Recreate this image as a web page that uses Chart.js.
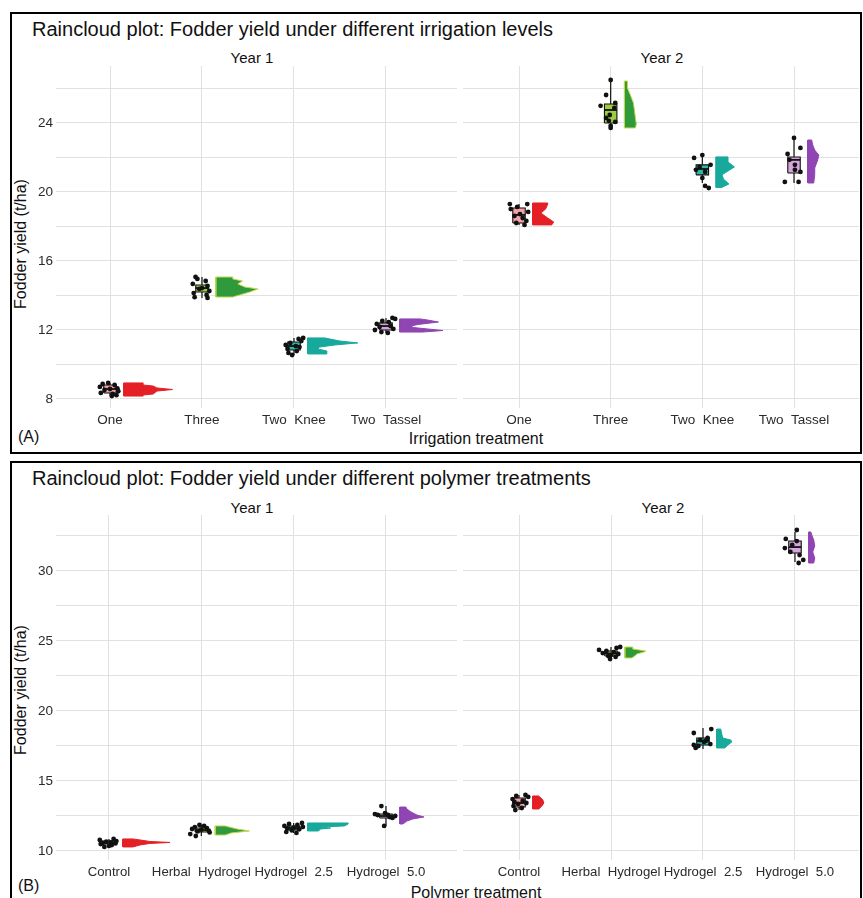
<!DOCTYPE html>
<html><head><meta charset="utf-8">
<script src="https://cdn.jsdelivr.net/npm/chart.js@4.4.1/dist/chart.umd.min.js"></script>
<style>
html,body{margin:0;padding:0;background:#fff;width:863px;height:898px;overflow:hidden;font-family:"Liberation Sans",Arial,sans-serif;}
.frame{position:absolute;border:2px solid #000;box-sizing:border-box;}
.t{position:absolute;white-space:nowrap;color:#111;line-height:1;}
canvas{position:absolute;}
</style></head><body>
<div class="frame" style="left:10px;top:12px;width:852px;height:442px;"></div>
<div class="frame" style="left:10px;top:461px;width:852px;height:470px;"></div>

<div class="t" style="left:32px;top:29px;font-size:20px;transform:translateY(-50%);">Raincloud plot: Fodder yield under different irrigation levels</div>
<div class="t" style="left:252px;top:57px;font-size:15px;transform:translate(-50%,-50%);">Year 1</div>
<div class="t" style="left:662px;top:57px;font-size:15px;transform:translate(-50%,-50%);">Year 2</div>
<div class="t" style="left:21px;top:244px;font-size:16px;transform:translate(-50%,-50%) rotate(-90deg);">Fodder yield (t/ha)</div>
<div class="t" style="left:476px;top:439px;font-size:16px;transform:translate(-50%,-50%);">Irrigation treatment</div>
<div class="t" style="left:18px;top:437px;font-size:16px;transform:translateY(-50%);">(A)</div>

<div class="t" style="left:32px;top:478px;font-size:20px;transform:translateY(-50%);">Raincloud plot: Fodder yield under different polymer treatments</div>
<div class="t" style="left:252px;top:507px;font-size:15px;transform:translate(-50%,-50%);">Year 1</div>
<div class="t" style="left:663px;top:507px;font-size:15px;transform:translate(-50%,-50%);">Year 2</div>
<div class="t" style="left:21px;top:690px;font-size:16px;transform:translate(-50%,-50%) rotate(-90deg);">Fodder yield (t/ha)</div>
<div class="t" style="left:476px;top:893px;font-size:16px;transform:translate(-50%,-50%);">Polymer treatment</div>
<div class="t" style="left:18px;top:886px;font-size:16px;transform:translateY(-50%);">(B)</div>

<canvas id="a1" width="446" height="372" style="left:14px;top:62px;"></canvas>
<canvas id="a2" width="396" height="372" style="left:463px;top:62px;"></canvas>
<canvas id="b1" width="446" height="375" style="left:14px;top:511px;"></canvas>
<canvas id="b2" width="396" height="375" style="left:463px;top:511px;"></canvas>

<script>
// ---------- DATA ----------
const irrigationCategories = ["One", "Three", "Two  Knee", "Two  Tassel"];
const polymerCategories = ["Control", "Herbal  Hydrogel", "Hydrogel  2.5", "Hydrogel  5.0"];

const yTicksIrrigation = [8, 12, 16, 20, 24];
const yMinorIrrigation = [10, 14, 18, 22, 26];
const yTicksPolymer = [10, 15, 20, 25, 30];
const yMinorPolymer = [12.5, 17.5, 22.5, 27.5, 32.5];

// Box stats: [lower whisker, Q1, median, Q3, upper whisker]
const irrYear1Box = [
  [8.17, 8.35, 8.58, 8.81, 8.93],
  [13.86, 14.20, 14.43, 14.61, 15.07],
  [10.55, 10.84, 11.07, 11.30, 11.54],
  [11.83, 12.00, 12.23, 12.41, 12.70]
];
const irrYear2Box = [
  [18.09, 18.20, 18.67, 19.07, 19.30],
  [23.71, 24.00, 24.75, 25.10, 26.49],
  [20.52, 20.99, 21.33, 21.57, 22.14],
  [20.52, 21.10, 21.86, 22.03, 23.13]
];
const polYear1Box = [
  [10.29, 10.50, 10.60, 10.71, 10.86],
  [11.07, 11.36, 11.50, 11.64, 11.86],
  [11.29, 11.50, 11.64, 11.79, 12.00],
  [11.79, 12.36, 12.50, 12.64, 13.21]
];
const polYear2Box = [
  [12.93, 13.14, 13.43, 13.79, 14.00],
  [23.71, 23.93, 24.11, 24.29, 24.57],
  [17.29, 17.57, 17.86, 18.07, 18.79],
  [30.64, 31.29, 31.71, 32.14, 32.79]
];

// Raw observations (rain) and their horizontal jitter
const irrYear1Points = [
  [8.93, 8.87, 8.81, 8.70, 8.62, 8.58, 8.52, 8.45, 8.35, 8.29, 8.22, 8.17],
  [15.07, 14.96, 14.84, 14.67, 14.55, 14.43, 14.38, 14.26, 14.14, 14.03, 13.90, 13.86],
  [11.54, 11.48, 11.36, 11.25, 11.13, 11.07, 11.01, 10.90, 10.78, 10.67, 10.55],
  [12.70, 12.64, 12.52, 12.46, 12.35, 12.23, 12.17, 12.06, 12.00, 11.88, 11.83]
];
const irrYear1Jitter = [
  [-0.02, -0.08, 0.05, -0.11, 0.08, 0.00, -0.06, 0.09, -0.10, 0.03, 0.07, 0.02],
  [-0.07, -0.05, 0.04, -0.10, 0.06, 0.00, -0.03, 0.08, -0.09, 0.05, -0.08, 0.06],
  [0.10, 0.05, 0.08, -0.04, -0.09, 0.02, 0.06, -0.07, 0.03, -0.06, -0.02],
  [0.07, 0.10, -0.04, 0.03, -0.10, 0.05, -0.07, 0.08, -0.12, -0.05, 0.02]
];
const irrYear2Points = [
  [19.30, 19.30, 19.13, 19.01, 18.84, 18.72, 18.61, 18.49, 18.32, 18.20, 18.09],
  [26.49, 25.62, 24.99, 25.16, 24.87, 24.46, 24.29, 24.12, 24.06, 23.83, 23.71],
  [21.97, 22.14, 21.57, 21.28, 20.81, 20.35, 20.23, 21.45, 21.16],
  [23.13, 22.55, 22.20, 21.86, 21.57, 21.16, 20.58, 20.58, 21.28]
];
const irrYear2Jitter = [
  [-0.10, 0.09, -0.02, -0.09, 0.10, 0.01, -0.05, 0.04, 0.08, -0.03, 0.06],
  [0.00, -0.05, -0.11, 0.05, 0.04, -0.01, -0.05, -0.02, 0.05, 0.00, 0.00],
  [-0.09, 0.00, 0.09, -0.07, 0.00, 0.03, 0.07, -0.03, 0.03],
  [0.00, 0.07, -0.07, -0.05, 0.01, 0.07, -0.10, 0.05, 0.01]
];
const polYear1Points = [
  [10.86, 10.79, 10.71, 10.66, 10.61, 10.57, 10.54, 10.50, 10.43, 10.36, 10.29],
  [11.86, 11.79, 11.71, 11.64, 11.57, 11.52, 11.46, 11.40, 11.33, 11.21, 11.07],
  [12.00, 11.93, 11.86, 11.79, 11.72, 11.66, 11.61, 11.55, 11.47, 11.36, 11.29],
  [13.21, 12.64, 12.71, 12.43, 12.50, 11.79, 12.57, 12.57, 12.36]
];
const polYear1Jitter = [
  [0.05, -0.10, 0.08, -0.03, 0.02, -0.07, 0.07, -0.09, 0.03, 0.00, -0.05],
  [-0.02, 0.03, -0.07, 0.06, -0.10, 0.00, 0.08, -0.04, 0.09, -0.12, -0.06],
  [0.09, -0.05, 0.04, -0.10, 0.10, 0.00, -0.07, 0.06, -0.02, -0.08, 0.03],
  [-0.05, -0.12, -0.01, 0.04, 0.10, -0.02, -0.09, 0.02, 0.07]
];
const polYear2Points = [
  [14.00, 13.93, 13.86, 13.71, 13.57, 13.50, 13.43, 13.36, 13.21, 13.07, 12.93],
  [24.57, 24.50, 24.36, 24.29, 24.21, 24.14, 24.07, 24.00, 23.93, 23.86, 23.71],
  [18.43, 18.71, 17.57, 17.36, 17.93, 17.79, 18.07, 17.64, 17.50, 17.86],
  [32.93, 32.29, 31.64, 31.14, 30.79, 30.57, 31.86, 31.36, 32.14]
];
const polYear2Jitter = [
  [0.07, -0.03, 0.10, -0.07, 0.04, -0.05, 0.08, -0.01, -0.06, 0.03, -0.04],
  [0.10, 0.06, -0.13, -0.05, 0.03, -0.09, 0.08, 0.00, -0.03, 0.05, -0.01],
  [-0.10, 0.09, -0.10, -0.08, -0.03, 0.01, 0.05, 0.08, -0.05, 0.03],
  [0.02, -0.10, -0.11, 0.05, 0.09, 0.04, -0.03, -0.05, 0.02]
];

// Half-violin (cloud) outline: yield values and density widths (category units)
const irrYear1ViolinY = [
  [8.17, 8.23, 8.29, 8.46, 8.55, 8.64, 8.75, 8.81, 8.93],
  [13.91, 14.03, 14.20, 14.38, 14.49, 14.67, 14.84, 14.96, 15.07],
  [10.61, 10.78, 10.90, 11.01, 11.13, 11.25, 11.36, 11.48, 11.54],
  [11.88, 11.97, 12.06, 12.14, 12.23, 12.32, 12.46, 12.58, 12.64]
];
const irrYear1ViolinW = [
  [0.21, 0.21, 0.32, 0.36, 0.53, 0.36, 0.32, 0.21, 0.21],
  [0.185, 0.26, 0.37, 0.457, 0.315, 0.24, 0.29, 0.185, 0.185],
  [0.207, 0.207, 0.109, 0.13, 0.293, 0.543, 0.348, 0.239, 0.185],
  [0.25, 0.47, 0.30, 0.15, 0.12, 0.20, 0.42, 0.30, 0.22]
];
const irrYear2ViolinY = [
  [18.09, 18.26, 18.49, 18.78, 19.01, 19.30, 19.36],
  [23.71, 23.94, 24.29, 24.75, 25.16, 25.62, 26.03, 26.43],
  [20.26, 20.46, 20.75, 20.99, 21.28, 21.45, 21.74, 22.03],
  [20.52, 20.99, 21.39, 21.86, 22.14, 22.43, 22.72, 23.01]
];
const irrYear2ViolinW = [
  [0.207, 0.228, 0.163, 0.087, 0.141, 0.163, 0.163],
  [0.12, 0.13, 0.12, 0.109, 0.098, 0.065, 0.033, 0.033],
  [0.06, 0.14, 0.08, 0.065, 0.15, 0.20, 0.13, 0.13],
  [0.065, 0.076, 0.076, 0.109, 0.12, 0.076, 0.054, 0.043]
];
const polYear1ViolinY = [
  [10.29, 10.43, 10.54, 10.61, 10.68, 10.79, 10.86],
  [11.14, 11.29, 11.43, 11.57, 11.71, 11.79],
  [11.43, 11.57, 11.64, 11.71, 11.79, 11.93, 12.00],
  [11.93, 12.14, 12.29, 12.43, 12.57, 12.79, 13.00, 13.14]
];
const polYear1ViolinW = [
  [0.109, 0.185, 0.293, 0.511, 0.293, 0.185, 0.109],
  [0.109, 0.174, 0.37, 0.239, 0.152, 0.109],
  [0.12, 0.14, 0.25, 0.14, 0.40, 0.44, 0.44],
  [0.033, 0.076, 0.141, 0.261, 0.185, 0.12, 0.076, 0.065]
];
const polYear2ViolinY = [
  [13.00, 13.21, 13.43, 13.64, 13.86, 13.93],
  [23.79, 23.93, 24.07, 24.21, 24.29, 24.43, 24.57],
  [17.36, 17.57, 17.79, 17.93, 18.07, 18.36, 18.71],
  [30.57, 30.93, 31.36, 31.79, 32.21, 32.57, 32.79]
];
const polYear2ViolinW = [
  [0.065, 0.098, 0.12, 0.109, 0.076, 0.065],
  [0.076, 0.109, 0.13, 0.207, 0.228, 0.087, 0.087],
  [0.087, 0.12, 0.163, 0.152, 0.065, 0.054, 0.043],
  [0.054, 0.065, 0.043, 0.065, 0.054, 0.033, 0.022]
];

// ---------- STYLE ----------
const violinColors = ["#e41f26", "#2f9a3c", "#17a99b", "#8f45b2"];
const violinEdges  = ["#e41f26", "#c3d64b", "#17a99b", "#8f45b2"];
const boxColors    = ["#f2a1a6", "#9dcc3e", "#2db7a9", "#d5a5de"];
const VIOLIN_OFFSET = 0.15;
const BOX_HALF = 0.068;

function buildDatasets(box, pts, jit, vY, vW) {
  const ds = [];
  box.forEach((b, i) => {
    const cx = i + 1;
    const [lo, q1, med, q3, hi] = b;
    const x0 = cx + VIOLIN_OFFSET;
    const ys = vY[i], ws = vW[i];
    const poly = [{x: x0, y: ys[0]}];
    ys.forEach((y, k) => poly.push({x: x0 + ws[k], y: y}));
    poly.push({x: x0, y: ys[ys.length - 1]});
    poly.push({x: x0, y: ys[0]});
    ds.push({type: 'line', data: poly, fill: 'shape', backgroundColor: violinColors[i],
      borderColor: violinEdges[i], borderWidth: 1, pointRadius: 0, tension: 0, order: 5});
    ds.push({type: 'line', data: [
      {x: cx - BOX_HALF, y: q1}, {x: cx + BOX_HALF, y: q1}, {x: cx + BOX_HALF, y: q3},
      {x: cx - BOX_HALF, y: q3}, {x: cx - BOX_HALF, y: q1}],
      fill: 'shape', backgroundColor: boxColors[i], borderColor: '#111', borderWidth: 1.1,
      pointRadius: 0, tension: 0, order: 4});
    ds.push({type: 'line', data: [{x: cx, y: lo}, {x: cx, y: q1}], borderColor: '#111',
      borderWidth: 1.2, pointRadius: 0, fill: false, order: 3});
    ds.push({type: 'line', data: [{x: cx, y: q3}, {x: cx, y: hi}], borderColor: '#111',
      borderWidth: 1.2, pointRadius: 0, fill: false, order: 3});
    ds.push({type: 'line', data: [{x: cx - BOX_HALF, y: med}, {x: cx + BOX_HALF, y: med}],
      borderColor: '#111', borderWidth: 1.8, pointRadius: 0, fill: false, order: 2});
    ds.push({type: 'scatter', data: pts[i].map((v, k) => ({x: cx + jit[i][k], y: v})),
      pointRadius: 2.4, backgroundColor: '#111', borderWidth: 0, order: 1});
  });
  return ds;
}

function zeroPad(s) { s.paddingTop = 0; s.paddingBottom = 0; s.paddingLeft = 0; s.paddingRight = 0; }

function makeFacet(id, cats, box, pts, jit, vY, vW, xMin, xMax, yMin, yMax, yMajor, yMinor, showY, xAxisH, xFont) {
  const allY = yMajor.concat(yMinor).sort((a, b) => a - b);
  new Chart(document.getElementById(id), {
    type: 'scatter',
    data: {datasets: buildDatasets(box, pts, jit, vY, vW)},
    options: {
      responsive: false, animation: false, devicePixelRatio: 1,
      layout: {autoPadding: false, padding: {top: 4, right: showY ? 3 : 0, left: 0, bottom: 0}},
      plugins: {legend: {display: false}, tooltip: {enabled: false}, title: {display: false}},
      events: [],
      scales: {
        x: {
          type: 'linear', min: xMin, max: xMax,
          afterBuildTicks: s => { s.ticks = cats.map((c, i) => ({value: i + 1})); },
          afterFit: s => { s.height = xAxisH; zeroPad(s); },
          ticks: {autoSkip: false, maxRotation: 0, minRotation: 0, padding: 4,
            color: '#2b2b2b', font: {family: 'Liberation Sans', size: xFont},
            callback: v => cats[Math.round(v) - 1]},
          grid: {color: '#e1e1e1', lineWidth: 1, drawTicks: false},
          border: {display: false}
        },
        y: {
          type: 'linear', min: yMin, max: yMax,
          afterBuildTicks: s => { s.ticks = allY.map(v => ({value: v})); },
          afterFit: s => { s.width = showY ? 42 : 0; zeroPad(s); },
          ticks: {display: showY, padding: 3, color: '#2b2b2b',
            font: {family: 'Liberation Sans', size: 13.5},
            callback: v => yMajor.includes(v) ? String(v) : ''},
          grid: {color: '#e1e1e1', lineWidth: 1, drawTicks: false},
          border: {display: false}
        }
      }
    }
  });
}

makeFacet('a1', irrigationCategories, irrYear1Box, irrYear1Points, irrYear1Jitter,
  irrYear1ViolinY, irrYear1ViolinW, 0.413, 4.772, 7.478, 27.30, yTicksIrrigation, yMinorIrrigation, true, 26, 13.5);
makeFacet('a2', irrigationCategories, irrYear2Box, irrYear2Points, irrYear2Jitter,
  irrYear2ViolinY, irrYear2ViolinW, 0.389, 4.709, 7.478, 27.30, yTicksIrrigation, yMinorIrrigation, false, 26, 13.5);
makeFacet('b1', polymerCategories, polYear1Box, polYear1Points, polYear1Jitter,
  polYear1ViolinY, polYear1ViolinW, 0.426, 4.769, 9.357, 34.0, yTicksPolymer, yMinorPolymer, true, 26, 13.2);
makeFacet('b2', polymerCategories, polYear2Box, polYear2Points, polYear2Jitter,
  polYear2ViolinY, polYear2ViolinW, 0.391, 4.696, 9.357, 34.0, yTicksPolymer, yMinorPolymer, false, 26, 13.2);
</script>
</body></html>
